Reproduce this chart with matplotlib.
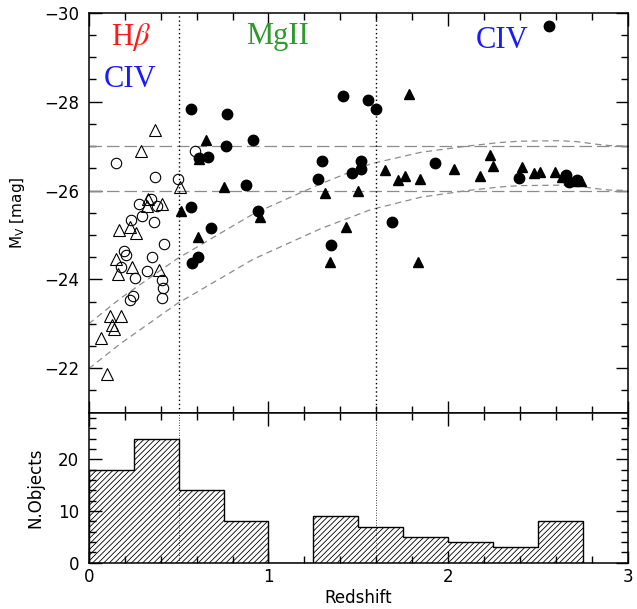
import numpy as np
import matplotlib.pyplot as plt
from matplotlib.ticker import MultipleLocator

# open circles (low redshift)
oc_z = [0.152, 0.366, 0.496, 0.344, 0.279, 0.381, 0.297, 0.236, 0.363, 0.418, 0.195,
        0.205, 0.353, 0.182, 0.325, 0.260, 0.405, 0.413, 0.247, 0.229, 0.409, 0.591]
oc_mv = [-26.63, -26.30, -26.26, -25.81, -25.70, -25.66, -25.42, -25.34, -25.29, -24.80, -24.65,
         -24.54, -24.51, -24.29, -24.19, -24.04, -23.99, -23.81, -23.62, -23.54, -23.57, -26.88]

# open triangles
ot_z = [0.368, 0.292, 0.506, 0.331, 0.322, 0.409, 0.171, 0.227, 0.264, 0.149,
        0.163, 0.242, 0.390, 0.121, 0.177, 0.127, 0.141, 0.067, 0.104]
ot_mv = [-27.36, -26.90, -26.07, -25.81, -25.66, -25.70, -25.12, -25.18, -25.05, -24.46,
         -24.13, -24.28, -24.21, -23.17, -23.17, -22.97, -22.89, -22.68, -21.87]

# filled circles
fc_z = [0.569, 0.771, 0.766, 0.913, 0.665, 0.613, 0.876, 0.567, 0.939, 0.678, 0.606, 0.573,
        1.417, 1.552, 1.599, 1.300, 1.277, 1.513, 1.517, 1.463, 1.346, 1.686, 1.926,
        2.394, 2.560, 2.655, 2.673, 2.714]
fc_mv = [-27.84, -27.72, -27.00, -27.13, -26.76, -26.73, -26.12, -25.64, -25.55, -25.15, -24.50, -24.37,
         -28.13, -28.04, -27.83, -26.67, -26.25, -26.67, -26.49, -26.39, -24.77, -25.30, -26.63,
         -26.28, -29.71, -26.34, -26.19, -26.24]

# filled triangles
ft_z = [0.651, 0.613, 0.751, 0.513, 0.952, 0.606, 1.314, 1.498, 1.430, 1.342,
        1.781, 1.649, 1.718, 1.759, 1.842, 1.829, 2.034, 2.179, 2.231, 2.249,
        2.413, 2.478, 2.510, 2.593, 2.630, 2.700, 2.740]
ft_mv = [-27.14, -26.70, -26.07, -25.55, -25.40, -24.96, -25.94, -26.00, -25.17, -24.40,
         -28.17, -26.47, -26.23, -26.33, -26.26, -24.40, -26.48, -26.32, -26.80, -26.55,
         -26.53, -26.39, -26.41, -26.41, -26.30, -26.22, -26.21]

# flux limit curves
curve_z = [0.0, 0.175, 0.49, 0.918, 1.29, 1.569, 1.848, 2.108, 2.287, 2.40, 2.62, 2.714, 2.826, 2.9, 3.0]
upper_mv = [-23.0, -23.57, -24.46, -25.48, -26.15, -26.60, -26.86, -27.00, -27.08, -27.11,
            -27.12, -27.10, -27.04, -27.01, -27.0]
lower_mv = [-21.99, -22.55, -23.45, -24.46, -25.14, -25.57, -25.85, -26.00, -26.08, -26.11,
            -26.12, -26.10, -26.04, -26.01, -26.0]

# histogram
edges = [0, 0.25, 0.5, 0.75, 1.0, 1.25, 1.5, 1.75, 2.0, 2.25, 2.5, 2.75]
counts = [18, 24, 14, 8, 0, 9, 7, 5, 4, 3, 8]

plt.rcParams['hatch.linewidth'] = 0.6
plt.rcParams['font.size'] = 12

fig = plt.figure(figsize=(6.37, 6.09), dpi=100)
ax1 = fig.add_axes([0.1393, 0.3223, 0.8466, 0.6568])
ax2 = fig.add_axes([0.1393, 0.0760, 0.8466, 0.2463])

grey = '#8c8c8c'
ax1.axhline(-27, color=grey, lw=0.9, dashes=(10, 4))
ax1.axhline(-26, color=grey, lw=0.9, dashes=(10, 4))
ax1.plot(curve_z, upper_mv, color=grey, lw=0.9, dashes=(5, 3.5))
ax1.plot(curve_z, lower_mv, color=grey, lw=0.9, dashes=(5, 3.5))

ax1.axvline(0.5, color='black', lw=1.0, ls=(0, (1, 2)))
ax1.axvline(1.6, color='black', lw=1.0, ls=(0, (1, 2)))
ax2.axvline(0.5, color='black', lw=0.6, ls=(0, (1, 2)))
ax2.axvline(1.6, color='black', lw=0.6, ls=(0, (1, 2)))

ax1.plot(oc_z, oc_mv, 'o', ms=7.5, mfc='none', mec='black', mew=0.8)
ax1.plot(ot_z, ot_mv, '^', ms=8, mfc='none', mec='black', mew=0.8)
ax1.plot(fc_z, fc_mv, 'o', ms=7.5, color='black')
ax1.plot(ft_z, ft_mv, '^', ms=7.5, color='black')

serif = 'Liberation Serif'
ax1.text(0.232, -29.46, r'H$\beta$', color='#ff1a1a', fontsize=22, family=serif,
         math_fontfamily='stix', ha='center', va='center')
ax1.text(0.232, -28.50, 'CIV', color='#1a1aff', fontsize=22, family=serif, ha='center', va='center')
ax1.text(1.05, -29.46, 'MgII', color='#2e9a2e', fontsize=22, family=serif, ha='center', va='center')
ax1.text(2.30, -29.37, 'CIV', color='#1a1aff', fontsize=22, family=serif, ha='center', va='center')

ax1.set_xlim(0, 3)
ax1.set_ylim(-21, -30)
ax1.yaxis.set_major_locator(MultipleLocator(2))
ax1.yaxis.set_minor_locator(MultipleLocator(0.5))
ax1.set_ylabel(r'M$_\mathrm{V}$ [mag]', fontsize=11, labelpad=12)
ax1.tick_params(labelbottom=False)

ax2.stairs(counts, edges, fill=True, facecolor='none', edgecolor='black', hatch='//////', lw=1.0)
ax2.set_xlim(0, 3)
ax2.set_ylim(0, 29)
ax2.yaxis.set_major_locator(MultipleLocator(10))
ax2.yaxis.set_minor_locator(MultipleLocator(2))
ax2.set_xlabel('Redshift', fontsize=12, labelpad=2)
ax2.set_ylabel('N.Objects', fontsize=12, labelpad=10)

for ax in (ax1, ax2):
    ax.xaxis.set_major_locator(MultipleLocator(1))
    ax.xaxis.set_minor_locator(MultipleLocator(0.2))
    ax.tick_params(which='both', direction='in', top=True, right=True, width=1.0)
    ax.tick_params(which='major', length=9)
    ax.tick_params(which='minor', length=5)
    ax.tick_params(axis='y', pad=7)
    ax.tick_params(axis='x', pad=4)
    for s in ax.spines.values():
        s.set_linewidth(1.1)

fig.savefig('out.png', dpi=100)
